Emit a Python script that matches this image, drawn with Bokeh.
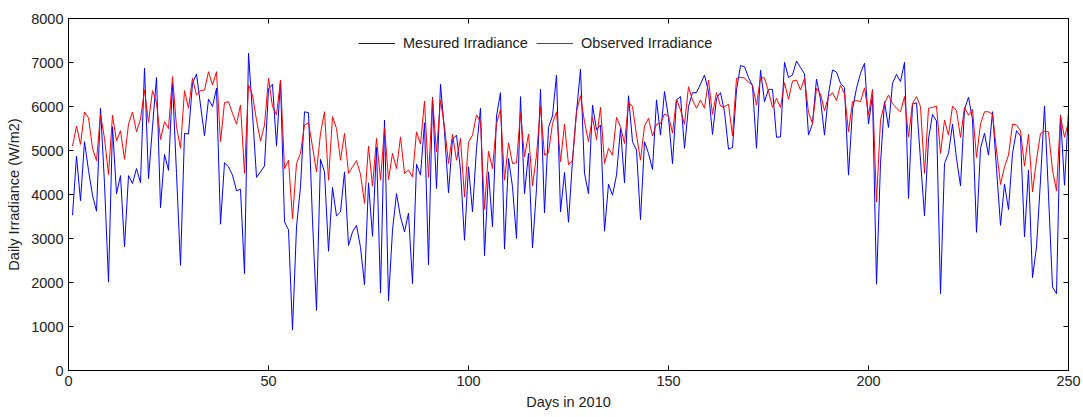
from bokeh.plotting import figure
from bokeh.models import Legend, LegendItem, LinearAxis, FixedTicker, Range1d
from bokeh.embed import file_html
from bokeh.resources import INLINE

measured = [3530, 4870, 3860, 5200, 4550, 3985, 3620, 5960, 4250, 2010,
            5540, 4020, 4430, 2810, 4430, 4250, 4590, 4265, 6870, 4360,
            5540, 6660, 3700, 4910, 4550, 6530, 4480, 2390, 5390, 5375,
            6530, 6740, 6035, 5335, 6170, 6000, 6415, 3325, 4720, 4630,
            4440, 4085, 4120, 2200, 7210, 5845, 4390, 4515, 4650, 6400,
            6505, 5100, 6600, 3380, 3200, 925, 3260, 4175, 5880, 5860,
            3415, 1365, 4800, 4515, 2710, 4160, 3515, 3605, 4515, 2840,
            3150, 3300, 2800, 1950, 4265, 3050, 5070, 1760, 5690, 1580,
            3190, 4020, 3490, 3150, 3580, 1975, 4690, 4440, 5630, 2405,
            6210, 4135, 6505, 5425, 4040, 5250, 5350, 4555, 2960, 4630,
            3605, 5050, 5960, 2610, 4515, 3265, 5785, 6315, 2760, 4820,
            4175, 3000, 6225, 4020, 4935, 2785, 4135, 6390, 3580, 5525,
            5785, 6715, 3605, 4500, 3370, 4780, 5880, 6845, 4480, 4020,
            6035, 5465, 5580, 3165, 4235, 3985, 4440, 5500, 4265, 6245,
            5200, 5010, 3430, 5200, 4935, 4570, 6150, 5350, 6340, 5750,
            4700, 6150, 6225, 5050, 6000, 6315, 6315, 6510, 6715, 6340,
            5365, 6185, 6315, 5880, 5030, 5070, 6375, 6930, 6905, 6660,
            6465, 5050, 6830, 6110, 6390, 6390, 5300, 5310, 7005, 6660,
            6715, 7035, 6885, 6740, 5350, 5615, 6625, 6165, 5350, 6285,
            6830, 6780, 6530, 6435, 4440, 5935, 6415, 6755, 6985, 5600,
            6260, 1960, 4705, 6110, 5525, 6530, 6730, 6565, 7005, 3910,
            6055, 6085, 4780, 3515, 5260, 5820, 5670, 1745, 4705, 4935,
            5600, 4820, 4195, 5935, 6210, 5710, 3140, 5050, 5390, 4895,
            5880, 4590, 3300, 4235, 3660, 4935, 5450, 5330, 3035, 4555,
            2110, 2810, 4325, 6010, 3985, 1900, 1745, 5805, 4210, 5905]

observed = [5100, 5555, 5140, 5875, 5745, 5050, 4770, 5820, 5275, 4455,
            5800, 5215, 5450, 4800, 5600, 5875, 5425, 5715, 6375, 5640,
            6360, 6090, 5250, 5655, 5500, 6680, 5540, 5050, 6360, 5960,
            6640, 6260, 6360, 6375, 6790, 6490, 6790, 5200, 6090, 6110,
            5845, 5600, 6035, 4480, 6490, 6260, 5690, 5215, 5580, 6640,
            6000, 5810, 6600, 4590, 4780, 3450, 4705, 4935, 5580, 5630,
            5085, 4515, 5390, 5880, 4325, 5770, 5500, 4780, 5390, 4480,
            4630, 4770, 4460, 3800, 5100, 4190, 5275, 4325, 5525, 4340,
            4935, 4590, 5310, 4480, 4555, 4400, 5425, 5145, 6125, 4390,
            6185, 4970, 6150, 5540, 4705, 5365, 4780, 5275, 3945, 5190,
            5350, 5810, 5655, 3665, 4985, 4590, 5615, 5935, 4325, 5175,
            4705, 4720, 5860, 4860, 5375, 4195, 4895, 6000, 4895, 4950,
            5615, 5880, 4745, 5600, 4680, 4780, 5880, 6245, 5655, 5200,
            5755, 5250, 5980, 4705, 5050, 4895, 5755, 5540, 5160, 6095,
            6000, 5350, 4780, 5555, 5730, 5330, 5600, 5615, 5830, 5780,
            5400, 6170, 5920, 5595, 6450, 6150, 5960, 6150, 5960, 6600,
            5820, 6315, 6010, 6000, 6050, 5335, 6640, 6660, 6650, 6550,
            6490, 6035, 6660, 6650, 6340, 5980, 6185, 5980, 6540, 6165,
            6580, 6600, 6375, 6640, 5865, 5615, 6415, 6285, 5905, 6225,
            6315, 6135, 6490, 6285, 5425, 6110, 6135, 6110, 6425, 5805,
            6390, 3830, 5690, 6070, 6260, 6070, 5960, 5880, 6225, 5310,
            6070, 6225, 6000, 4480, 5960, 5980, 6010, 4935, 5690, 5350,
            6010, 5905, 5300, 5980, 5805, 5935, 4840, 5600, 5880, 5880,
            5830, 5010, 4230, 4630, 4895, 5600, 5580, 5450, 4645, 5365,
            4060, 4780, 5390, 5440, 5425, 4555, 4085, 5790, 5300, 5655]

days = list(range(1, len(measured) + 1))
x_ticks = [0, 50, 100, 150, 200, 250]
y_ticks = [0, 1000, 2000, 3000, 4000, 5000, 6000, 7000, 8000]

FONT = "Liberation Sans"
FS = "14.5px"
TXT = "#222222"

p = figure(width=1083, height=417, output_backend="svg", toolbar_location=None,
           x_range=Range1d(0, 250), y_range=Range1d(0, 8000),
           min_border_left=68, min_border_right=15, min_border_top=18, min_border_bottom=47)
p.background_fill_color = "white"
p.border_fill_color = "white"
p.outline_line_color = "black"
p.outline_line_width = 1
p.xgrid.visible = False
p.ygrid.visible = False

r_meas = p.line(days, measured, line_color="#0000FF", line_width=1)
r_obs = p.line(days, observed, line_color="#FF0000", line_width=1)

def style_axis(ax, ticks, show_labels=True):
    ax.ticker = FixedTicker(ticks=ticks)
    ax.major_tick_in = 5
    ax.major_tick_out = 0
    ax.minor_tick_line_color = None
    ax.axis_line_color = "black"
    ax.major_tick_line_color = "black"
    ax.major_label_text_font = FONT
    ax.major_label_text_font_size = FS
    ax.major_label_text_color = TXT
    ax.axis_label_text_font = FONT
    ax.axis_label_text_font_size = FS
    ax.axis_label_text_color = TXT
    ax.axis_label_text_font_style = "normal"
    if not show_labels:
        ax.major_label_text_font_size = "0px"
        ax.major_label_text_alpha = 0

xa = p.xaxis[0]
style_axis(xa, x_ticks)
xa.axis_label = "Days in 2010"
xa.major_label_standoff = 5
xa.axis_label_standoff = 5

ya = p.yaxis[0]
style_axis(ya, y_ticks)
ya.axis_label = "Daily Irradiance (W/m2)"
ya.major_label_standoff = 5
ya.axis_label_standoff = 6

top = LinearAxis()
style_axis(top, x_ticks, show_labels=False)
p.add_layout(top, "above")
right = LinearAxis()
style_axis(right, y_ticks, show_labels=False)
p.add_layout(right, "right")

legend = Legend(items=[LegendItem(label="Mesured Irradiance", renderers=[r_meas]),
                       LegendItem(label="Observed Irradiance", renderers=[r_obs])],
                orientation="horizontal", location=(290, 317))
legend.background_fill_alpha = 0
legend.border_line_alpha = 0
legend.padding = 0
legend.margin = 0
legend.spacing = 8
legend.glyph_width = 37
legend.label_standoff = 8
legend.label_text_font = FONT
legend.label_text_font_size = FS
legend.label_text_color = TXT
p.add_layout(legend, "center")

open("out.html", "w").write(file_html(p, INLINE))
